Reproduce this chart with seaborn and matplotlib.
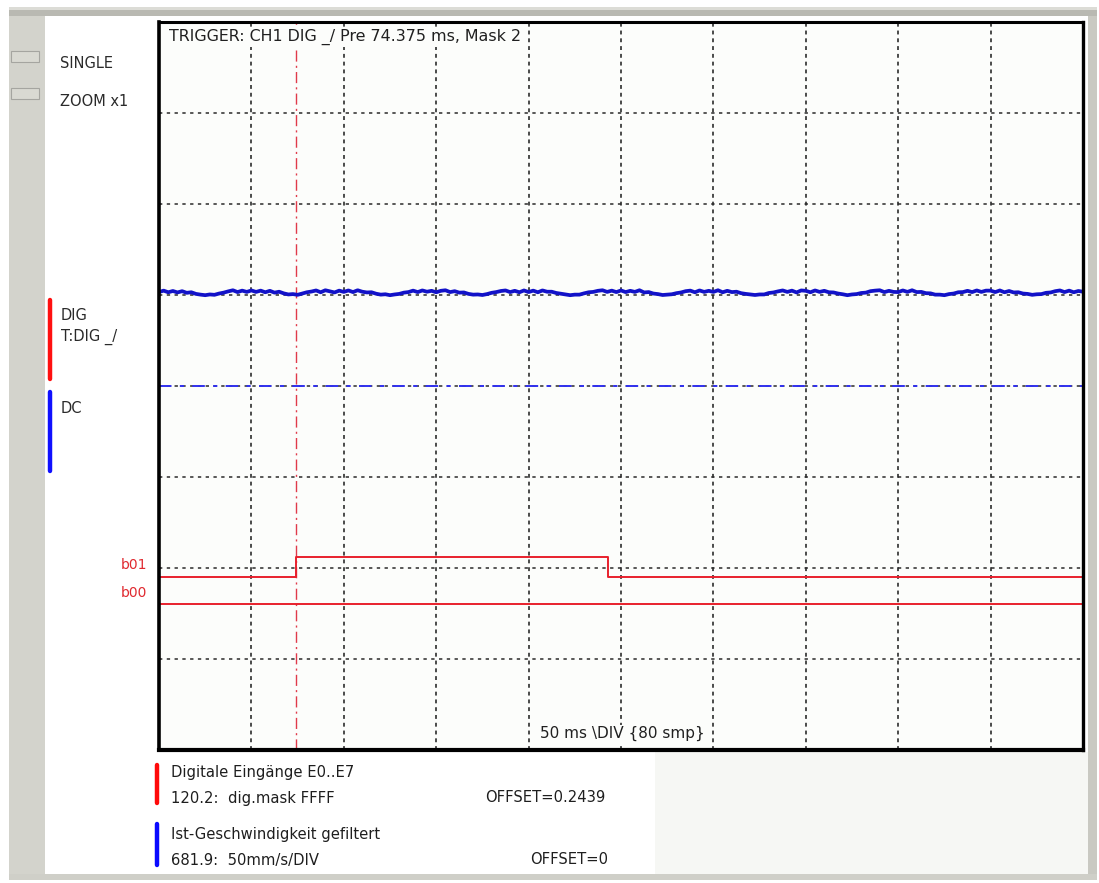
import numpy as np
import pandas as pd
import matplotlib
matplotlib.use("Agg")
import matplotlib.pyplot as plt
import matplotlib.transforms as mtransforms
from matplotlib.patches import Rectangle
from matplotlib.lines import Line2D
import seaborn as sns

# ---------------- data ----------------
# time base: 50 ms per division, 10 divisions, pre-trigger 74.375 ms
MS_PER_DIV = 50.0
N_DIV_X = 10
PRE_TRIGGER_MS = 74.375
SAMPLE_MS = 2.5

# filtered actual velocity (mm/s), 20 samples per division
speed_mm_s = [
    51.6, 52.4, 51.5, 52.2, 51.4, 52.1, 51.2, 51.5, 50.6, 50.2, 49.9, 50.3, 50.1, 50.8, 51.3, 52.0, 52.6, 51.6, 52.4, 51.7,
    52.5, 51.7, 52.4, 51.5, 52.3, 51.3, 51.8, 50.9, 50.3, 50.5, 50.1, 50.8, 51.5, 51.9, 52.5, 51.5, 52.6, 52.0, 51.4, 52.4,
    51.7, 52.5, 51.6, 52.6, 51.8, 51.4, 51.5, 50.7, 50.2, 50.4, 49.9, 50.3, 50.6, 51.3, 51.6, 52.4, 51.6, 52.5, 51.8, 52.3,
    51.5, 52.3, 52.6, 51.6, 52.1, 51.3, 51.4, 50.6, 50.2, 50.3, 50.0, 50.5, 51.2, 51.6, 52.2, 52.5, 51.6, 52.3, 51.5, 52.5,
    51.6, 52.4, 51.5, 52.5, 51.8, 51.8, 51.1, 50.7, 50.3, 49.9, 50.2, 50.2, 50.9, 51.5, 51.7, 52.3, 52.6, 51.7, 52.4, 51.6,
    52.5, 51.6, 52.3, 51.7, 52.6, 51.4, 51.6, 50.8, 50.5, 50.0, 50.2, 50.4, 51.0, 51.4, 52.1, 52.4, 51.5, 52.5, 51.7, 52.3,
    51.7, 52.6, 51.5, 52.3, 51.6, 51.8, 51.0, 50.6, 50.3, 50.0, 50.3, 50.3, 51.1, 51.4, 52.0, 52.5, 51.7, 52.4, 51.4, 52.5,
    52.3, 51.5, 52.5, 51.7, 52.3, 51.5, 51.4, 50.8, 50.4, 49.9, 50.3, 50.5, 51.1, 51.3, 52.1, 52.4, 52.6, 51.6, 52.3, 51.7,
    51.6, 52.5, 51.7, 52.6, 51.6, 51.7, 51.0, 50.9, 50.2, 50.2, 49.9, 50.5, 50.8, 51.5, 51.6, 52.3, 51.6, 52.5, 51.7, 52.4,
    52.4, 51.6, 52.5, 51.5, 52.2, 51.4, 51.5, 50.8, 50.6, 50.1, 50.4, 50.5, 51.2, 51.4, 52.1, 52.5, 51.6, 52.4, 51.5, 52.2,
    51.8,
]
SPEED_SCALE = 50.0      # mm/s per division
SPEED_OFFSET = 0.0

# digital inputs: edge times (ms, relative to trigger) and bit states
dig_edges_ms = [-74.375, 0.0, 168.75]
bit_b00 = [0, 0, 0]
bit_b01 = [0, 1, 0]
bit_names = ["b00", "b01"]

# ---------------- figure ----------------
W, H = 1099, 883
sns.set_style("white")
plt.rcParams["font.family"] = ["DejaVu Sans"]
plt.rcParams["lines.scale_dashes"] = False

fig = plt.figure(figsize=(W / 100, H / 100), dpi=100)
fig.patch.set_facecolor("white")


def fx(px):
    return px / W


def fy(py):
    return 1 - py / H


def frame_rect(x0, y0, x1, y1, fc, ec="none", lw=0):
    fig.add_artist(Rectangle((fx(x0), fy(y1)), fx(x1) - fx(x0), fy(y0) - fy(y1),
                             transform=fig.transFigure, facecolor=fc,
                             edgecolor=ec, linewidth=lw, zorder=0))


def bar(x, y0, y1, color):
    fig.add_artist(Line2D([fx(x), fx(x)], [fy(y0), fy(y1)], transform=fig.transFigure,
                          color=color, lw=3.2, solid_capstyle="round", zorder=3))


# window frame
frame_rect(9, 7, 1097, 10, "#dcdcd6")
frame_rect(9, 10, 1097, 16, "#b9b9b2")
frame_rect(9, 16, 45, 878, "#d3d3cc")
frame_rect(1088, 16, 1097, 878, "#c9c9c2")
frame_rect(9, 874, 1097, 880, "#cfcfc8")
frame_rect(655, 752, 1088, 874, "#f6f7f4")
# buttons
frame_rect(11, 51, 39, 62, "#d9d9d2", "#a5a5a0", 0.8)
frame_rect(11, 88, 39, 99, "#d9d9d2", "#a5a5a0", 0.8)

txt_kw = dict(color="#2a2a2a", fontsize=10.5, va="center", ha="left")
fig.text(fx(60), fy(64), "SINGLE", **txt_kw)
fig.text(fx(60), fy(102), "ZOOM x1", **txt_kw)
bar(50, 300, 379, "#ff1010")
bar(50, 392, 471, "#1010ff")
fig.text(fx(61), fy(315), "DIG", **txt_kw)
fig.text(fx(61), fy(337), "T:DIG _/", **txt_kw)
fig.text(fx(61), fy(408), "DC", **txt_kw)

# ---------------- scope screen ----------------
ax = fig.add_axes([fx(159), fy(750), fx(1083) - fx(159), fy(22) - fy(750)])
ax.set_facecolor("#fcfdfb")

t0 = -PRE_TRIGGER_MS
t1 = t0 + N_DIV_X * MS_PER_DIV
ax.set_xlim(t0, t1)
ax.set_ylim(0, 8)

# graticule
for k in range(1, N_DIV_X):
    ax.axvline(t0 + k * MS_PER_DIV, color="#1a1a1a", lw=1.1,
               ls=(0, (2.8, 2.8)), zorder=1)
for k in range(1, 8):
    ax.axhline(k, color="#2a2a2a", lw=1.1, ls=(0, (2.4, 3.2)), zorder=1)

# velocity trace
t_speed = t0 + SAMPLE_MS * np.arange(len(speed_mm_s))
df_speed = pd.DataFrame({
    "t": t_speed,
    "div": 4 + (np.array(speed_mm_s) + SPEED_OFFSET) / SPEED_SCALE,
})
sns.lineplot(data=df_speed, x="t", y="div", ax=ax, color="#1212c8", lw=2.7,
             estimator=None, sort=False, zorder=4)

# zero marker of the velocity channel
ax.axhline(4 + SPEED_OFFSET / SPEED_SCALE, color="#3030ee", lw=1.4,
           ls=(0, (9, 6, 3, 6)), zorder=2)

# digital bits
DIG_BASE = 1.60
BIT_PITCH = 0.30
BIT_HIGH = 0.22
lbl_tr = mtransforms.blended_transform_factory(fig.transFigure, ax.transData)
for i, states in enumerate([bit_b00, bit_b01]):
    tt = list(dig_edges_ms) + [t1]
    ss = list(states) + [states[-1]]
    df_bit = pd.DataFrame({"t": tt,
                           "div": [DIG_BASE + i * BIT_PITCH + s * BIT_HIGH for s in ss]})
    sns.lineplot(data=df_bit, x="t", y="div", ax=ax, color="#e8202c", lw=1.4,
                 drawstyle="steps-post", estimator=None, sort=False, zorder=3)
    ax.text(fx(147), DIG_BASE + i * BIT_PITCH + 0.13, bit_names[i],
            transform=lbl_tr, ha="right", va="center", color="#e02a30",
            fontsize=10)

# trigger position
ax.axvline(0.0, color="#e03a4a", lw=1.0, ls=(0, (8, 3, 1.5, 3)), zorder=2)

ax.set_xticks([])
ax.set_yticks([])
ax.set_xlabel("")
ax.set_ylabel("")
for side, lw in [("left", 2.6), ("bottom", 3.0), ("top", 2.2), ("right", 2.4)]:
    ax.spines[side].set_visible(True)
    ax.spines[side].set_color("black")
    ax.spines[side].set_linewidth(lw)
    ax.spines[side].set_zorder(6)

ax.text(0.011, 0.990, "TRIGGER: CH1 DIG _/ Pre 74.375 ms, Mask 2",
        transform=ax.transAxes, ha="left", va="top", fontsize=11.4,
        color="#202020", zorder=5,
        bbox=dict(facecolor="#fcfdfb", edgecolor="none", pad=1.0))
ax.text(0.502, 0.012, "50 ms \\DIV {80 smp}", transform=ax.transAxes,
        ha="center", va="bottom", fontsize=11, color="#202020", zorder=5,
        bbox=dict(facecolor="#fcfdfb", edgecolor="none", pad=1.0))

# ---------------- channel legend ----------------
lg_kw = dict(color="#1e1e1e", fontsize=10.6, va="center", ha="left")
bar(157, 765, 803, "#ff0a0a")
fig.text(fx(171), fy(772), "Digitale Eingänge E0..E7", **lg_kw)
fig.text(fx(171), fy(798), "120.2:  dig.mask FFFF", **lg_kw)
fig.text(fx(485), fy(798), "OFFSET=0.2439", **lg_kw)
bar(157, 824, 865, "#0a0aff")
fig.text(fx(171), fy(835), "Ist-Geschwindigkeit gefiltert", **lg_kw)
fig.text(fx(171), fy(860), "681.9:  50mm/s/DIV", **lg_kw)
fig.text(fx(530), fy(860), "OFFSET=0", **lg_kw)

fig.savefig("out.png", dpi=100)
